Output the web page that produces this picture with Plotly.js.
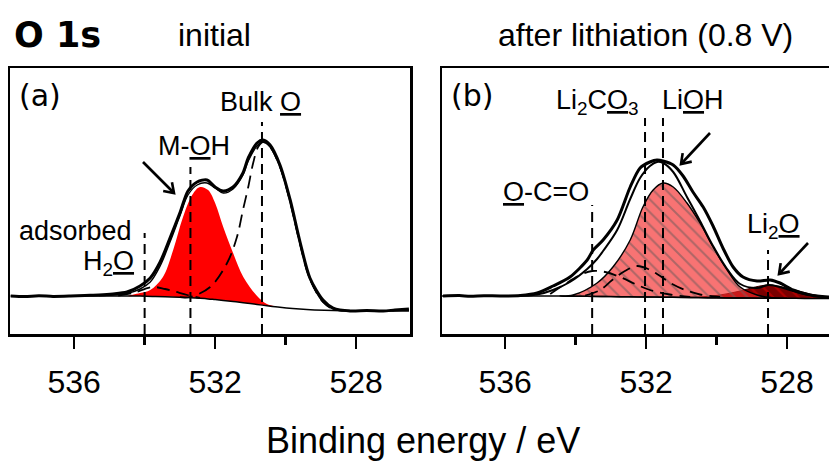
<!DOCTYPE html>
<html>
<head>
<meta charset="utf-8">
<script src="https://cdn.plot.ly/plotly-3.0.1.min.js"></script>
<style>
  html, body { margin: 0; padding: 0; background: #fff; overflow: hidden; }
  #chart { width: 829px; height: 464px; }
</style>
</head>
<body>
<div id="chart"></div>
<script>
// ===== Panel (a): O 1s, initial electrode =====
// measured spectrum
const energyA = [537.8, 537.4, 537.0, 536.6, 536.1, 535.7, 535.3, 534.9, 534.5, 534.13, 533.84, 533.56, 533.28, 532.99, 532.77, 532.51, 532.23, 532.0, 531.77, 531.49, 531.21, 531.06, 530.81, 530.64, 530.44, 530.16, 529.87, 529.59, 529.31, 528.94, 528.65, 528.17, 527.7, 527.23, 526.9, 526.5];
const countsA = [38, 37.5, 38.2, 37.6, 38, 38.6, 39, 40, 42, 48, 56, 72, 96, 122, 143, 152, 154, 147, 143, 147, 161, 176, 191, 194, 189, 169, 134, 92, 56, 34, 26, 23, 23.5, 23, 24, 25];
// fit envelope
const fitEnergyA = [535.3, 534.9, 534.5, 534.13, 533.84, 533.56, 533.28, 532.99, 532.77, 532.51, 532.23, 532.0, 531.77, 531.49, 531.21, 531.06, 530.81, 530.64, 530.44, 530.16, 529.87, 529.59, 529.31, 528.94, 528.65, 528.17, 527.5, 526.5];
const fitCountsA = [38.5, 39, 40.5, 45, 52, 68, 92, 119, 139, 149, 151, 146, 141, 145, 159, 173, 188, 192, 187, 167, 132, 90, 55, 32, 25, 23.2, 23.2, 23.2];
// Shirley background
const bgEnergyA = [537.8, 536.5, 535.5, 534.9, 534.47, 534.13, 533.78, 533.42, 533.0, 532.7, 532.43, 532.2, 532.0, 531.77, 531.49, 531.2, 530.81, 530.53, 530.16, 529.8, 529.4, 528.9, 528.4, 527.5, 526.5];
const bgCountsA = [38, 38, 38, 38, 38, 37.9, 37.6, 37.3, 36.8, 36.3, 35.7, 35.1, 34.4, 33.6, 32.5, 31.3, 29.5, 28.3, 26.8, 25.6, 24.6, 23.8, 23.3, 23.2, 23.2];
// fitted components
const mohEnergy = [534.47, 534.13, 533.84, 533.48, 533.19, 532.91, 532.65, 532.43, 532.2, 532.0, 531.77, 531.49, 531.2, 530.81, 530.53, 530.16];
const mohCounts = [38, 41, 44, 57, 84, 117, 139, 147, 144, 131, 107, 81, 57, 38, 30, 26.8];
const bulkEnergy = [533.0, 532.71, 532.14, 531.66, 531.38, 531.21, 531.06, 530.92, 530.78, 530.64, 530.44, 530.16, 529.87, 529.59, 529.31, 528.94, 528.65, 528.17];
const bulkCounts = [36.8, 37, 47, 71, 97, 124, 147, 171, 187, 192, 187, 167, 132, 90, 55, 32, 25, 23.3];
const h2oEnergy = [534.75, 534.33, 533.79, 533.42, 533.19, 532.79, 532.43];
const h2oCounts = [38.5, 41, 47, 45, 43, 39, 36];
// binding energies of the assigned species
const markEnergyA = [534.0, 532.7, 530.67];

// ===== Panel (b): O 1s after lithiation (0.8 V) =====
const energyB = [537.76, 537.3, 536.99, 536.6, 536.14, 535.57, 535.09, 534.64, 534.16, 533.67, 533.5, 533.22, 532.82, 532.45, 532.17, 531.89, 531.69, 531.52, 531.23, 530.95, 530.67, 530.38, 530.1, 529.82, 529.53, 529.25, 528.85, 528.48, 528.2, 527.83, 527.35, 526.81, 526.5];
const countsB = [38, 38.4, 37.8, 38.3, 38, 38.5, 41, 48, 57, 74, 84, 94, 114, 147, 166, 172, 174, 173, 169, 158, 142, 127, 108, 86, 67, 57, 53, 54, 51, 44, 39, 37, 36.5];
const fitEnergyB = [537.76, 535.57, 535.09, 534.64, 534.16, 533.67, 533.39, 533.22, 532.82, 532.45, 532.17, 531.89, 531.69, 531.52, 531.23, 530.84, 530.47, 530.1, 529.7, 529.33, 528.85, 528.54, 528.2, 527.77, 527.35, 526.81, 526.5];
const fitCountsB = [38, 38.3, 39.5, 44, 52, 65, 75, 83, 104, 135, 156, 168, 172, 171, 162, 137, 113, 88, 65, 50, 46, 49, 47, 42.5, 39, 36.5, 36];
const bgEnergyB = [537.8, 536, 535, 534.44, 534.0, 533.5, 533.0, 532.5, 532.0, 531.5, 531.0, 530.5, 530.0, 529.5, 529.0, 528.5, 528.0, 527.5, 527.0, 526.5, 526.0];
const bgCountsB = [38, 38, 38, 37.9, 37.8, 37.6, 37.4, 37.2, 37, 36.8, 36.6, 36.4, 36.2, 36.0, 35.9, 35.8, 35.7, 35.6, 35.5, 35.5, 35.5];
const liohEnergy = [534.44, 534.07, 533.39, 532.94, 532.45, 532.09, 531.8, 531.52, 531.23, 530.84, 530.47, 530.1, 529.7, 529.33, 528.85, 528.48, 528.0];
const liohCounts = [37.9, 39, 51, 67, 94, 127, 144, 151, 147, 131, 111, 87, 64, 47, 39, 36.5, 35.7];
const li2oEnergy = [531.0, 530.47, 529.9, 529.33, 528.9, 528.54, 528.2, 527.77, 527.35, 526.81, 526.0];
const li2oCounts = [36.6, 37, 39, 43, 47, 49, 47.5, 44, 40, 37, 35.5];
const ocoEnergy = [534.72, 534.3, 533.87, 533.53, 533.16, 532.74, 532.31, 531.89, 531.32, 530.75];
const ocoCounts = [40, 50, 59, 63, 62, 57, 50, 44, 39.5, 37];
const li2co3Energy = [533.73, 533.3, 532.96, 532.6, 532.26, 531.94, 531.6, 531.26, 530.89, 530.47, 529.9];
const li2co3Counts = [38.5, 44, 54, 63, 68, 65, 58, 50, 44, 39.5, 37];
const markEnergyB = [533.53, 532.03, 531.52, 528.54];

// shared axis ticks
const tickValues = [536, 532, 528];
const tickLabels = ['536', '532', '528'];

// ---------- layout helpers ----------
const W = 829, H = 464;
const px = v => v / W;
const py = v => 1 - v / H;
const FONT = 'Liberation Sans, Arial, sans-serif';
const PLOT_TOP = 68, PLOT_BOTTOM = 334;

// closes a component outline down onto the background between its end points
function areaOverBackground(compE, compI, bgE, bgI) {
  const hi = Math.max(...compE), lo = Math.min(...compE);
  const xs = compE.slice(), ys = compI.slice();
  for (let i = bgE.length - 1; i >= 0; i--) {
    if (bgE[i] <= hi && bgE[i] >= lo) { xs.push(bgE[i]); ys.push(bgI[i]); }
  }
  return { x: xs, y: ys };
}

const dashComp = { color: '#000', width: 1.8, dash: '13px,7px', shape: 'spline', smoothing: 1 };
const traces = [];

// ---- panel (a) traces ----
const mohArea = areaOverBackground(mohEnergy, mohCounts, bgEnergyA, bgCountsA);
traces.push({ x: mohArea.x, y: mohArea.y, xaxis: 'x', yaxis: 'y', mode: 'lines', fill: 'toself',
  fillcolor: '#ff0000', line: { width: 0, shape: 'spline', smoothing: 1 }, hoverinfo: 'skip' });
traces.push({ x: bgEnergyA, y: bgCountsA, xaxis: 'x', yaxis: 'y', mode: 'lines',
  line: { color: '#000', width: 1.5, shape: 'spline' } });
traces.push({ x: h2oEnergy, y: h2oCounts, xaxis: 'x', yaxis: 'y', mode: 'lines', line: dashComp });
traces.push({ x: bulkEnergy, y: bulkCounts, xaxis: 'x', yaxis: 'y', mode: 'lines', line: dashComp });
traces.push({ x: fitEnergyA, y: fitCountsA, xaxis: 'x', yaxis: 'y', mode: 'lines',
  line: { color: '#000', width: 1.4, shape: 'spline', smoothing: 1 } });
traces.push({ x: energyA, y: countsA, xaxis: 'x', yaxis: 'y', mode: 'lines',
  line: { color: '#000', width: 3, shape: 'spline', smoothing: 0.8 } });

// ---- panel (b) traces ----
const li2oArea = areaOverBackground(li2oEnergy, li2oCounts, bgEnergyB, bgCountsB);
traces.push({ x: li2oArea.x, y: li2oArea.y, xaxis: 'x2', yaxis: 'y2', mode: 'lines', fill: 'toself',
  fillcolor: '#7a0000',
  fillpattern: { shape: '\\', bgcolor: '#7a0000', fgcolor: '#c00000', fgopacity: 0.8, size: 9, solidity: 0.25 },
  line: { color: '#3a0000', width: 1, shape: 'spline', smoothing: 1 }, hoverinfo: 'skip' });
const liohArea = areaOverBackground(liohEnergy, liohCounts, bgEnergyB, bgCountsB);
traces.push({ x: liohArea.x, y: liohArea.y, xaxis: 'x2', yaxis: 'y2', mode: 'lines', fill: 'toself',
  fillcolor: 'rgba(245,40,40,0.65)',
  fillpattern: { shape: '\\', bgcolor: 'rgba(245,40,40,0.65)', fgcolor: '#6e5a5a', fgopacity: 0.55, size: 9, solidity: 0.22 },
  line: { color: '#000', width: 1.4, shape: 'spline', smoothing: 1 }, hoverinfo: 'skip' });
traces.push({ x: bgEnergyB, y: bgCountsB, xaxis: 'x2', yaxis: 'y2', mode: 'lines',
  line: { color: '#000', width: 1.5, shape: 'spline' } });
traces.push({ x: ocoEnergy, y: ocoCounts, xaxis: 'x2', yaxis: 'y2', mode: 'lines', line: dashComp });
traces.push({ x: li2co3Energy, y: li2co3Counts, xaxis: 'x2', yaxis: 'y2', mode: 'lines', line: dashComp });
traces.push({ x: fitEnergyB, y: fitCountsB, xaxis: 'x2', yaxis: 'y2', mode: 'lines',
  line: { color: '#000', width: 2, shape: 'spline', smoothing: 1 } });
traces.push({ x: energyB, y: countsB, xaxis: 'x2', yaxis: 'y2', mode: 'lines',
  line: { color: '#000', width: 3, shape: 'spline', smoothing: 0.8 } });

// ---------- axes ----------
function energyAxis(domain, range, first) {
  return {
    domain: domain, range: range, anchor: first ? 'y' : 'y2',
    showline: true, linecolor: '#000', linewidth: 2.5, mirror: true,
    showgrid: false, zeroline: false,
    tickmode: 'array', tickvals: tickValues, ticktext: tickLabels,
    ticks: 'outside', ticklen: 12, tickwidth: 2.5, tickcolor: '#000',
    minor: { tickmode: 'linear', tick0: 528, dtick: 2, ticks: 'outside', ticklen: 8, tickwidth: 2.5, tickcolor: '#000' },
    ticklabelstandoff: 6,
    tickfont: { family: FONT, size: 32, color: '#000' }
  };
}
const yDomain = [py(PLOT_BOTTOM), py(PLOT_TOP)];
const countRange = [0, 266];

// dashed markers at the assigned binding energies
const markTopA = [233, 167, 122];
const markTopB = [205, 118, 118, 250];
const markLine = { color: '#000', width: 2, dash: '10px,6px' };
const shapes = [];
markEnergyA.forEach((e, i) => shapes.push({ type: 'line', xref: 'x', yref: 'paper', x0: e, x1: e,
  y0: py(PLOT_BOTTOM), y1: py(markTopA[i]), line: markLine }));
markEnergyB.forEach((e, i) => shapes.push({ type: 'line', xref: 'x2', yref: 'paper', x0: e, x1: e,
  y0: py(PLOT_BOTTOM), y1: py(markTopB[i]), line: markLine }));

// pointer arrows (tail -> head, in pixels) drawn as a shaft plus an open V head
function addArrow(tx, ty, hx, hy) {
  const arrowLine = { color: '#000', width: 2.6 };
  shapes.push({ type: 'line', xref: 'paper', yref: 'paper', x0: px(tx), y0: py(ty), x1: px(hx), y1: py(hy), line: arrowLine });
  const len = Math.hypot(hx - tx, hy - ty);
  const ux = (hx - tx) / len, uy = (hy - ty) / len;
  const wing = 11, spread = 0.6;
  const cs = Math.cos(spread), sn = Math.sin(spread);
  const w1x = hx - wing * (ux * cs - uy * sn), w1y = hy - wing * (uy * cs + ux * sn);
  const w2x = hx - wing * (ux * cs + uy * sn), w2y = hy - wing * (uy * cs - ux * sn);
  shapes.push({ type: 'path', xref: 'paper', yref: 'paper',
    path: `M${px(w1x)},${py(w1y)} L${px(hx)},${py(hy)} L${px(w2x)},${py(w2y)}`,
    line: arrowLine });
}
addArrow(143, 162, 174, 193);
addArrow(710, 133, 681, 164);
addArrow(808, 243, 779, 274);

// ---------- text ----------
function label(text, x, y, size, opts) {
  return Object.assign({ text: text, xref: 'paper', yref: 'paper', x: px(x), y: py(y),
    xanchor: 'center', yanchor: 'middle', showarrow: false,
    font: { family: FONT, size: size, color: '#000' } }, opts || {});
}
const annotations = [
  label('<b>O 1s</b>', 57, 35, 35, { font: { family: 'DejaVu Sans, sans-serif', size: 35, color: '#000' } }),
  label('initial', 214, 35, 32),
  label('after lithiation (0.8 V)', 645, 35, 32),
  label('(a)', 17, 95, 30, { xanchor: 'left', font: { family: 'DejaVu Sans, sans-serif', size: 30, color: '#000' } }),
  label('(b)', 449, 95, 30, { xanchor: 'left', font: { family: 'DejaVu Sans, sans-serif', size: 30, color: '#000' } }),
  label('Bulk <u>O</u>', 260, 102, 27),
  label('M-<u>O</u>H', 194, 146, 27),
  label('adsorbed', 134, 231, 27, { xanchor: 'right' }),
  label('H<sub>2</sub><u>O</u>', 136, 263, 27, { xanchor: 'right' }),
  label('Li<sub>2</sub>C<u>O</u><sub>3</sub>', 554, 102, 27, { xanchor: 'left' }),
  label('Li<u>O</u>H', 693, 100, 27),
  label('<u>O</u>-C=O', 546, 192, 27),
  label('Li<sub>2</sub><u>O</u>', 745, 226, 27, { xanchor: 'left' }),
  label('Binding energy / eV', 423, 440, 36)
];

const layout = {
  width: W, height: H,
  margin: { l: 0, r: 0, t: 0, b: 0, pad: 0 },
  paper_bgcolor: '#fff', plot_bgcolor: 'rgba(0,0,0,0)',
  showlegend: false,
  xaxis: energyAxis([px(10), px(410)], [537.82, 526.47], true),
  xaxis2: energyAxis([px(442), 1], [537.79, 526.81], false),
  yaxis: { domain: yDomain, range: countRange, anchor: 'x', showline: true, mirror: true,
    linecolor: '#000', linewidth: 2.5, showticklabels: false, ticks: '', showgrid: false, zeroline: false },
  yaxis2: { domain: yDomain, range: countRange, anchor: 'x2', showline: true, mirror: false,
    linecolor: '#000', linewidth: 2.5, showticklabels: false, ticks: '', showgrid: false, zeroline: false },
  shapes: shapes,
  annotations: annotations
};

Plotly.newPlot('chart', traces, layout, { staticPlot: true, displayModeBar: false });
</script>
</body>
</html>
